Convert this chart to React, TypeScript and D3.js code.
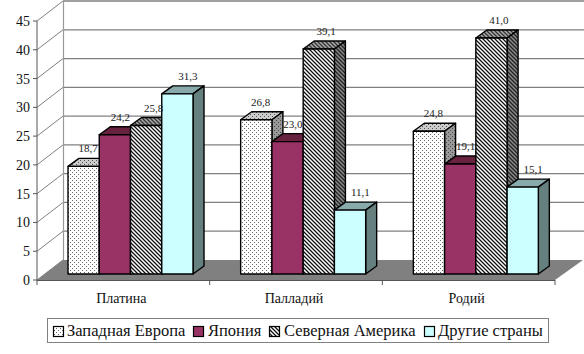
import React from "react";
import * as d3 from "d3";

const categories = ["Платина", "Палладий", "Родий"];
const seriesNames = ["Западная Европа", "Япония", "Северная Америка", "Другие страны"];
const westernEurope = [18.7, 26.8, 24.8];
const japan = [24.2, 23.0, 19.1];
const northAmerica = [25.8, 39.1, 41.0];
const others = [31.3, 11.1, 15.1];
const seriesValues = [westernEurope, japan, northAmerica, others];
const yTicks = d3.range(0, 50, 5);

const W = 584, H = 354;
const FONT = "'Liberation Serif', serif";
const y = d3.scaleLinear().domain([0, 45]).range([280, 21]);
const x0 = d3.scaleBand<string>().domain(categories).range([37, 555]);
const x1 = d3.scaleBand<string>().domain(seriesNames).range([31, 156]);
const wall = { dx: 26, dy: -20 };
const barBase = 274; // bars stand part-way into the floor
const depth = { dx: 11, dy: -8 };
const baseOffset = 280 - barBase;
const h = (v: number) => y(v) - baseOffset;
const labelShift = [20, 21, 23, 26];

const styles = [
  { front: "url(#dots)", top: "url(#dotsTop)", side: "url(#dotsSide)" },
  { front: "#993366", top: "#66223f", side: "#662244" },
  { front: "url(#hatch)", top: "url(#hatchTop)", side: "url(#hatchSide)" },
  { front: "#CCFFFF", top: "#88AAAA", side: "#668080" },
];

const Dots = ({ id, bg, fg }: { id: string; bg: string; fg: string }) => (
  <pattern id={id} width={4} height={4} patternUnits="userSpaceOnUse">
    <rect width={4} height={4} fill={bg} />
    <rect x={0} y={0} width={1} height={1} fill={fg} />
    <rect x={2} y={2} width={1} height={1} fill={fg} />
  </pattern>
);
const Hatch = ({ id, bg, fg }: { id: string; bg: string; fg: string }) => (
  <pattern id={id} width={4} height={4} patternUnits="userSpaceOnUse">
    <rect width={4} height={4} fill={bg} />
    <path d="M-1,-1L5,5M-1,3L1,5M3,-1L5,1" stroke={fg} strokeWidth={1.3} />
  </pattern>
);

const legendLayout = [
  { sw: 53, tx: 67 },
  { sw: 193, tx: 208 },
  { sw: 269, tx: 284 },
  { sw: 424, tx: 438 },
];

export default function App() {
  const x0End = 555;
  const line = d3.line();
  return (
    <svg width={W} height={H} style={{ position: "absolute", left: 0, top: 0, background: "#fff" }} fontFamily={FONT}>
      <defs>
        <Dots id="dots" bg="#fff" fg="#666" />
        <Dots id="dotsTop" bg="#ccc" fg="#555" />
        <Dots id="dotsSide" bg="#999" fg="#444" />
        <Hatch id="hatch" bg="#fff" fg="#111" />
        <Hatch id="hatchTop" bg="#aaa" fg="#333" />
        <Hatch id="hatchSide" bg="#888" fg="#222" />
      </defs>
      {/* floor */}
      <path
        d={(line([[37, 280], [37 + wall.dx, 280 + wall.dy], [x0End + wall.dx + 2, 280 + wall.dy], [x0End, 280]]) ?? "") + "Z"}
        fill="#808080"
      />
      {/* back wall and left wall grid */}
      {yTicks.map((t) => (
        <g key={t} stroke="#808080" fill="none">
          <line x1={37} y1={y(t)} x2={37 + wall.dx} y2={y(t) + wall.dy} strokeWidth={1} />
          {t > 0 && <line x1={37 + wall.dx} y1={y(t) + wall.dy} x2={W} y2={y(t) + wall.dy} strokeWidth={1.3} />}
        </g>
      ))}
      <line x1={63.5} y1={y(45) + wall.dy} x2={63.5} y2={y(0) + wall.dy} stroke="#999" strokeWidth={1.2} />
      <line x1={37} y1={y(45)} x2={37} y2={y(0)} stroke="#555" />
      <line x1={37} y1={280.5} x2={x0End} y2={280.5} stroke="#555" />
      {yTicks.map((t) => (
        <g key={t}>
          <line x1={33} y1={y(t)} x2={37} y2={y(t)} stroke="#555" />
          <text x={30} y={y(t) + 5} textAnchor="end" fontSize={14} fill="#111">{t}</text>
        </g>
      ))}
      {[...categories.map((c) => x0(c) as number), x0End].map((v) => (
        <line key={v} x1={v} y1={280} x2={v} y2={285} stroke="#555" />
      ))}
      {categories.map((c) => (
        <text key={c} x={(x0(c) as number) + x0.bandwidth() / 2 - 2} y={303} textAnchor="middle" fontSize={14} fill="#111">{c}</text>
      ))}
      {/* bars */}
      {categories.map((c, ci) => (
        <g key={c}>
          {seriesNames.map((s, si) => {
            const v = seriesValues[si][ci];
            const xl = (x0(c) as number) + (x1(s) as number);
            const bw = x1.bandwidth();
            const t = h(v);
            const st = styles[si];
            const common = { stroke: "#000", strokeWidth: 1.4, strokeLinejoin: "round" as const };
            return (
              <g key={s}>
                <path d={`M${xl},${t}l${depth.dx},${depth.dy}h${bw}l${-depth.dx},${-depth.dy}Z`} fill={st.top} {...common} />
                <path d={`M${xl + bw},${t}l${depth.dx},${depth.dy}V${barBase + depth.dy}l${-depth.dx},${-depth.dy}Z`} fill={st.side} {...common} />
                <rect x={xl} y={t} width={bw} height={barBase - t} fill={st.front} {...common} />
              </g>
            );
          })}
        </g>
      ))}
      {/* labels */}
      {categories.map((c) =>
        seriesNames.map((s, si) => {
          const ci = categories.indexOf(c);
          const v = seriesValues[si][ci];
          return (
            <text key={c + s} x={(x0(c) as number) + (x1(s) as number) + labelShift[si]} y={h(v) - 14} textAnchor="middle" fontSize={11} fill="#222">
              {d3.format(".1f")(v).replace(".", ",")}
            </text>
          );
        })
      )}
      {/* legend */}
      <rect x={47.5} y={318.5} width={501} height={24} fill="#fff" stroke="#808080" />
      {seriesNames.map((s, i) => (
        <g key={s}>
          <rect x={legendLayout[i].sw + 0.5} y={326.5} width={10} height={10} fill={styles[i].front} stroke="#000" strokeWidth={1.2} />
          <text x={legendLayout[i].tx} y={336} fontSize={16.5} fill="#111">{s}</text>
        </g>
      ))}
    </svg>
  );
}
